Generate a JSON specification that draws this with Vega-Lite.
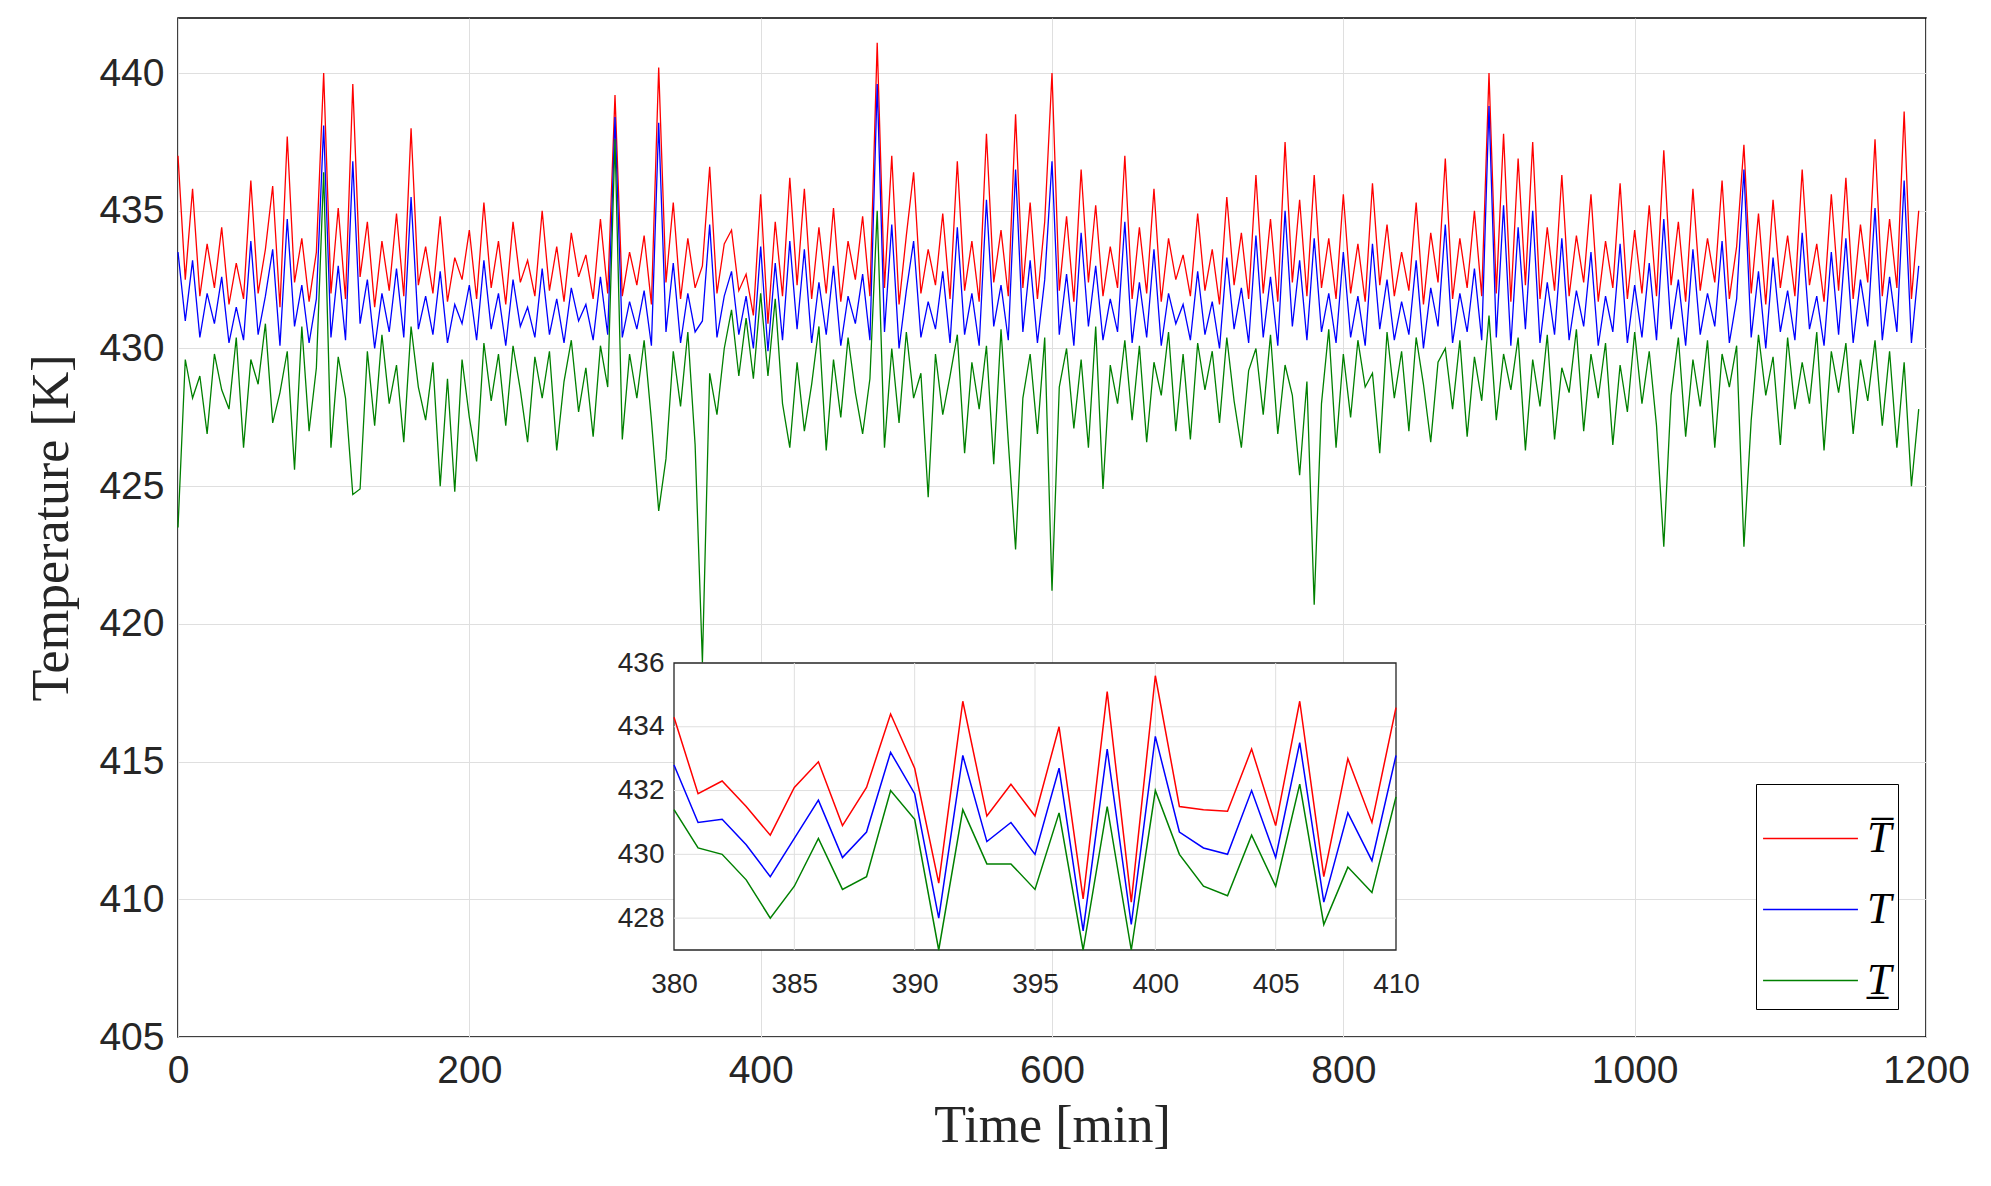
{
  "$schema": "https://vega.github.io/schema/vega-lite/v6.json",
  "autosize": "none",
  "width": 1748,
  "height": 1019,
  "padding": {"left": 178, "top": 18, "right": 65, "bottom": 149},
  "background": "white",
  "config": {
    "view": {"stroke": "black", "strokeWidth": 1.5},
    "axis": {"labelFont": "Liberation Sans", "labelColor": "#262626", "titleFont": "Liberation Serif", "titleFontWeight": "normal", "titleColor": "#262626", "labelFlush": false, "labelOverlap": false}
  },
  "datasets": {
    "main": [
{"t":0,"a":437.0,"b":433.5,"c":423.5},{"t":5,"a":432.5,"b":431.0,"c":429.6},{"t":10,"a":435.8,"b":433.2,"c":428.2},{"t":15,"a":431.9,"b":430.4,"c":429.0},{"t":20,"a":433.8,"b":432.0,"c":426.9},{"t":25,"a":432.2,"b":430.9,"c":429.8},{"t":30,"a":434.4,"b":432.6,"c":428.5},{"t":35,"a":431.6,"b":430.2,"c":427.8},{"t":40,"a":433.1,"b":431.5,"c":430.4},{"t":45,"a":431.8,"b":430.3,"c":426.4},
{"t":50,"a":436.1,"b":433.9,"c":429.6},{"t":55,"a":432.0,"b":430.5,"c":428.7},{"t":60,"a":433.6,"b":431.9,"c":430.9},{"t":65,"a":435.9,"b":433.6,"c":427.3},{"t":70,"a":431.5,"b":430.1,"c":428.4},{"t":75,"a":437.7,"b":434.7,"c":429.9},{"t":80,"a":432.4,"b":430.8,"c":425.6},{"t":85,"a":434.0,"b":432.3,"c":430.8},{"t":90,"a":431.7,"b":430.2,"c":427.0},{"t":95,"a":433.5,"b":431.8,"c":429.3},
{"t":100,"a":440.0,"b":438.1,"c":436.4},{"t":105,"a":432.0,"b":430.4,"c":426.4},{"t":110,"a":435.1,"b":433.0,"c":429.7},{"t":115,"a":431.8,"b":430.3,"c":428.2},{"t":120,"a":439.6,"b":436.8,"c":424.7},{"t":125,"a":432.6,"b":430.9,"c":424.9},{"t":130,"a":434.6,"b":432.5,"c":429.9},{"t":135,"a":431.5,"b":430.0,"c":427.2},{"t":140,"a":433.9,"b":432.0,"c":430.5},{"t":145,"a":432.1,"b":430.6,"c":428.0},
{"t":150,"a":434.9,"b":432.9,"c":429.4},{"t":155,"a":431.9,"b":430.4,"c":426.6},{"t":160,"a":438.0,"b":435.5,"c":430.8},{"t":165,"a":432.3,"b":430.7,"c":428.6},{"t":170,"a":433.7,"b":431.9,"c":427.4},{"t":175,"a":432.0,"b":430.5,"c":429.5},{"t":180,"a":434.8,"b":432.8,"c":425.0},{"t":185,"a":431.7,"b":430.2,"c":428.9},{"t":190,"a":433.3,"b":431.6,"c":424.8},{"t":195,"a":432.5,"b":430.9,"c":429.6},
{"t":200,"a":434.3,"b":432.3,"c":427.5},{"t":205,"a":431.8,"b":430.3,"c":425.9},{"t":210,"a":435.3,"b":433.2,"c":430.2},{"t":215,"a":432.2,"b":430.7,"c":428.1},{"t":220,"a":433.9,"b":432.0,"c":429.8},{"t":225,"a":431.6,"b":430.1,"c":427.2},{"t":230,"a":434.6,"b":432.5,"c":430.1},{"t":235,"a":432.4,"b":430.8,"c":428.5},{"t":240,"a":433.2,"b":431.5,"c":426.6},{"t":245,"a":431.9,"b":430.4,"c":429.7},
{"t":250,"a":435.0,"b":432.9,"c":428.2},{"t":255,"a":432.1,"b":430.5,"c":429.9},{"t":260,"a":433.7,"b":431.8,"c":426.3},{"t":265,"a":431.7,"b":430.2,"c":428.8},{"t":270,"a":434.2,"b":432.2,"c":430.3},{"t":275,"a":432.6,"b":431.0,"c":427.7},{"t":280,"a":433.4,"b":431.6,"c":429.3},{"t":285,"a":431.8,"b":430.3,"c":426.8},{"t":290,"a":434.7,"b":432.6,"c":430.1},{"t":295,"a":432.0,"b":430.5,"c":428.6},
{"t":300,"a":439.2,"b":438.4,"c":437.6},{"t":305,"a":431.9,"b":430.4,"c":426.7},{"t":310,"a":433.5,"b":431.7,"c":429.8},{"t":315,"a":432.3,"b":430.7,"c":428.2},{"t":320,"a":434.1,"b":432.1,"c":430.3},{"t":325,"a":431.6,"b":430.1,"c":427.4},{"t":330,"a":440.2,"b":438.2,"c":424.1},{"t":335,"a":432.4,"b":430.6,"c":426.0},{"t":340,"a":435.3,"b":433.1,"c":429.9},{"t":345,"a":431.8,"b":430.2,"c":427.9},
{"t":350,"a":434.0,"b":432.0,"c":430.6},{"t":355,"a":432.2,"b":430.6,"c":426.5},{"t":360,"a":433.0,"b":431.0,"c":418.6},{"t":365,"a":436.6,"b":434.5,"c":429.1},{"t":370,"a":432.0,"b":430.4,"c":427.6},{"t":375,"a":433.8,"b":431.9,"c":430.0},{"t":380,"a":434.3,"b":432.8,"c":431.4},{"t":385,"a":432.1,"b":430.5,"c":429.0},{"t":390,"a":432.7,"b":431.9,"c":431.1},{"t":395,"a":431.2,"b":430.0,"c":428.9},
{"t":400,"a":435.6,"b":433.7,"c":432.0},{"t":405,"a":430.9,"b":429.9,"c":429.0},{"t":410,"a":434.6,"b":433.1,"c":431.8},{"t":415,"a":431.9,"b":430.3,"c":428.0},{"t":420,"a":436.2,"b":433.9,"c":426.4},{"t":425,"a":432.3,"b":430.7,"c":429.5},{"t":430,"a":435.8,"b":433.6,"c":427.0},{"t":435,"a":431.8,"b":430.2,"c":428.7},{"t":440,"a":434.4,"b":432.4,"c":430.8},{"t":445,"a":432.0,"b":430.5,"c":426.3},
{"t":450,"a":435.1,"b":433.0,"c":429.6},{"t":455,"a":431.7,"b":430.1,"c":427.5},{"t":460,"a":433.9,"b":431.9,"c":430.4},{"t":465,"a":432.5,"b":430.9,"c":428.4},{"t":470,"a":434.8,"b":432.7,"c":426.9},{"t":475,"a":431.9,"b":430.3,"c":428.9},{"t":480,"a":441.1,"b":439.6,"c":435.0},{"t":485,"a":432.2,"b":430.6,"c":426.4},{"t":490,"a":437.0,"b":434.5,"c":430.0},{"t":495,"a":431.6,"b":430.0,"c":427.3},
{"t":500,"a":434.1,"b":432.1,"c":430.6},{"t":505,"a":436.4,"b":433.9,"c":428.2},{"t":510,"a":432.0,"b":430.4,"c":429.1},{"t":515,"a":433.6,"b":431.7,"c":424.6},{"t":520,"a":432.3,"b":430.7,"c":429.8},{"t":525,"a":434.9,"b":432.8,"c":427.6},{"t":530,"a":431.8,"b":430.2,"c":429.0},{"t":535,"a":436.8,"b":434.4,"c":430.5},{"t":540,"a":432.1,"b":430.5,"c":426.2},{"t":545,"a":433.9,"b":432.0,"c":429.5},
{"t":550,"a":431.7,"b":430.1,"c":427.8},{"t":555,"a":437.8,"b":435.4,"c":430.1},{"t":560,"a":432.4,"b":430.8,"c":425.8},{"t":565,"a":434.3,"b":432.3,"c":430.7},{"t":570,"a":431.9,"b":430.3,"c":426.6},{"t":575,"a":438.5,"b":436.5,"c":422.7},{"t":580,"a":432.2,"b":430.6,"c":428.2},{"t":585,"a":435.3,"b":433.2,"c":429.8},{"t":590,"a":431.8,"b":430.2,"c":426.9},{"t":595,"a":434.6,"b":432.5,"c":430.4},
{"t":600,"a":440.0,"b":436.8,"c":421.2},{"t":605,"a":432.1,"b":430.5,"c":428.6},{"t":610,"a":434.8,"b":432.7,"c":430.0},{"t":615,"a":431.7,"b":430.1,"c":427.1},{"t":620,"a":436.5,"b":434.2,"c":429.6},{"t":625,"a":432.4,"b":430.8,"c":426.4},{"t":630,"a":435.2,"b":433.0,"c":430.8},{"t":635,"a":431.9,"b":430.3,"c":424.9},{"t":640,"a":433.7,"b":431.8,"c":429.4},{"t":645,"a":432.2,"b":430.6,"c":428.0},
{"t":650,"a":437.0,"b":434.6,"c":430.3},{"t":655,"a":431.8,"b":430.2,"c":427.4},{"t":660,"a":434.4,"b":432.4,"c":430.1},{"t":665,"a":432.0,"b":430.4,"c":426.6},{"t":670,"a":435.8,"b":433.6,"c":429.5},{"t":675,"a":431.7,"b":430.1,"c":428.3},{"t":680,"a":434.0,"b":432.0,"c":430.6},{"t":685,"a":432.5,"b":430.9,"c":427.0},{"t":690,"a":433.4,"b":431.6,"c":429.8},{"t":695,"a":431.9,"b":430.3,"c":426.7},
{"t":700,"a":434.9,"b":432.8,"c":430.2},{"t":705,"a":432.1,"b":430.5,"c":428.5},{"t":710,"a":433.6,"b":431.7,"c":429.9},{"t":715,"a":431.6,"b":430.0,"c":427.3},{"t":720,"a":435.5,"b":433.3,"c":430.4},{"t":725,"a":432.3,"b":430.7,"c":428.1},{"t":730,"a":434.2,"b":432.2,"c":426.4},{"t":735,"a":431.8,"b":430.2,"c":429.2},{"t":740,"a":436.3,"b":434.1,"c":430.0},{"t":745,"a":432.0,"b":430.4,"c":427.6},
{"t":750,"a":434.7,"b":432.6,"c":430.5},{"t":755,"a":431.7,"b":430.1,"c":426.9},{"t":760,"a":437.5,"b":435.0,"c":429.4},{"t":765,"a":432.4,"b":430.8,"c":428.3},{"t":770,"a":435.4,"b":433.2,"c":425.4},{"t":775,"a":431.9,"b":430.3,"c":428.8},{"t":780,"a":436.3,"b":434.0,"c":420.7},{"t":785,"a":432.2,"b":430.6,"c":428.0},{"t":790,"a":434.0,"b":432.0,"c":430.7},{"t":795,"a":431.8,"b":430.2,"c":426.4},
{"t":800,"a":435.6,"b":433.5,"c":429.8},{"t":805,"a":432.0,"b":430.4,"c":427.5},{"t":810,"a":433.8,"b":431.9,"c":430.3},{"t":815,"a":431.7,"b":430.1,"c":428.6},{"t":820,"a":436.0,"b":433.8,"c":429.1},{"t":825,"a":432.3,"b":430.7,"c":426.2},{"t":830,"a":434.5,"b":432.5,"c":430.6},{"t":835,"a":431.9,"b":430.3,"c":428.2},{"t":840,"a":433.5,"b":431.7,"c":429.9},{"t":845,"a":432.1,"b":430.5,"c":427.0},
{"t":850,"a":435.3,"b":433.2,"c":430.4},{"t":855,"a":431.6,"b":430.0,"c":428.7},{"t":860,"a":434.2,"b":432.2,"c":426.6},{"t":865,"a":432.4,"b":430.8,"c":429.5},{"t":870,"a":436.9,"b":434.5,"c":430.0},{"t":875,"a":431.8,"b":430.2,"c":427.8},{"t":880,"a":434.0,"b":432.0,"c":430.3},{"t":885,"a":432.2,"b":430.6,"c":426.8},{"t":890,"a":435.0,"b":432.9,"c":429.7},{"t":895,"a":431.9,"b":430.3,"c":428.1},
{"t":900,"a":440.0,"b":438.8,"c":431.2},{"t":905,"a":432.0,"b":430.4,"c":427.4},{"t":910,"a":437.8,"b":435.2,"c":429.8},{"t":915,"a":431.7,"b":430.1,"c":428.5},{"t":920,"a":436.9,"b":434.4,"c":430.4},{"t":925,"a":432.3,"b":430.7,"c":426.3},{"t":930,"a":437.5,"b":435.0,"c":429.6},{"t":935,"a":431.8,"b":430.2,"c":427.9},{"t":940,"a":434.4,"b":432.4,"c":430.5},{"t":945,"a":432.1,"b":430.5,"c":426.7},
{"t":950,"a":436.3,"b":434.0,"c":429.3},{"t":955,"a":431.9,"b":430.3,"c":428.4},{"t":960,"a":434.1,"b":432.1,"c":430.7},{"t":965,"a":432.4,"b":430.8,"c":427.0},{"t":970,"a":435.6,"b":433.5,"c":429.8},{"t":975,"a":431.7,"b":430.1,"c":428.2},{"t":980,"a":433.9,"b":431.9,"c":430.2},{"t":985,"a":432.2,"b":430.6,"c":426.5},{"t":990,"a":436.0,"b":433.8,"c":429.4},{"t":995,"a":431.8,"b":430.2,"c":427.7},
{"t":1000,"a":434.3,"b":432.3,"c":430.6},{"t":1005,"a":432.0,"b":430.4,"c":428.0},{"t":1010,"a":435.2,"b":433.1,"c":429.9},{"t":1015,"a":431.9,"b":430.3,"c":427.2},{"t":1020,"a":437.2,"b":434.7,"c":422.8},{"t":1025,"a":432.3,"b":430.7,"c":428.3},{"t":1030,"a":434.6,"b":432.5,"c":430.4},{"t":1035,"a":431.7,"b":430.1,"c":426.8},{"t":1040,"a":435.8,"b":433.6,"c":429.6},{"t":1045,"a":432.1,"b":430.5,"c":427.9},
{"t":1050,"a":434.0,"b":432.0,"c":430.3},{"t":1055,"a":432.4,"b":430.8,"c":426.4},{"t":1060,"a":436.1,"b":433.9,"c":429.8},{"t":1065,"a":431.8,"b":430.2,"c":428.6},{"t":1070,"a":433.7,"b":431.8,"c":430.1},{"t":1075,"a":437.4,"b":436.5,"c":422.8},{"t":1080,"a":432.0,"b":430.4,"c":427.4},{"t":1085,"a":434.9,"b":432.8,"c":430.5},{"t":1090,"a":431.6,"b":430.0,"c":428.3},{"t":1095,"a":435.4,"b":433.3,"c":429.7},
{"t":1100,"a":432.2,"b":430.6,"c":426.5},{"t":1105,"a":434.1,"b":432.1,"c":430.4},{"t":1110,"a":431.9,"b":430.3,"c":427.8},{"t":1115,"a":436.5,"b":434.2,"c":429.5},{"t":1120,"a":432.3,"b":430.7,"c":428.0},{"t":1125,"a":433.8,"b":431.9,"c":430.6},{"t":1130,"a":431.7,"b":430.1,"c":426.3},{"t":1135,"a":435.6,"b":433.5,"c":429.9},{"t":1140,"a":432.1,"b":430.5,"c":428.4},{"t":1145,"a":436.2,"b":434.0,"c":430.2},
{"t":1150,"a":431.8,"b":430.2,"c":426.9},{"t":1155,"a":434.5,"b":432.5,"c":429.6},{"t":1160,"a":432.4,"b":430.8,"c":428.1},{"t":1165,"a":437.6,"b":435.1,"c":430.3},{"t":1170,"a":431.9,"b":430.3,"c":427.2},{"t":1175,"a":434.7,"b":432.6,"c":429.9},{"t":1180,"a":432.2,"b":430.6,"c":426.4},{"t":1185,"a":438.6,"b":436.1,"c":429.5},{"t":1190,"a":431.8,"b":430.2,"c":425.0},{"t":1195,"a":435.0,"b":433.0,"c":427.8}
    ],
    "inset": [
{"t":380,"a":434.3,"b":432.8,"c":431.4},{"t":381,"a":431.9,"b":431.0,"c":430.2},{"t":382,"a":432.3,"b":431.1,"c":430.0},{"t":383,"a":431.5,"b":430.3,"c":429.2},{"t":384,"a":430.6,"b":429.3,"c":428.0},{"t":385,"a":432.1,"b":430.5,"c":429.0},{"t":386,"a":432.9,"b":431.7,"c":430.5},{"t":387,"a":430.9,"b":429.9,"c":428.9},{"t":388,"a":432.1,"b":430.7,"c":429.3},{"t":389,"a":434.4,"b":433.2,"c":432.0},
{"t":390,"a":432.7,"b":431.9,"c":431.1},{"t":391,"a":429.1,"b":428.0,"c":427.0},{"t":392,"a":434.8,"b":433.1,"c":431.4},{"t":393,"a":431.2,"b":430.4,"c":429.7},{"t":394,"a":432.2,"b":431.0,"c":429.7},{"t":395,"a":431.2,"b":430.0,"c":428.9},{"t":396,"a":434.0,"b":432.7,"c":431.3},{"t":397,"a":428.6,"b":427.6,"c":427.0},{"t":398,"a":435.1,"b":433.3,"c":431.5},{"t":399,"a":428.5,"b":427.8,"c":427.0},
{"t":400,"a":435.6,"b":433.7,"c":432.0},{"t":401,"a":431.5,"b":430.7,"c":430.0},{"t":402,"a":431.4,"b":430.2,"c":429.0},{"t":403,"a":431.35,"b":430.0,"c":428.7},{"t":404,"a":433.3,"b":432.0,"c":430.6},{"t":405,"a":430.9,"b":429.9,"c":429.0},{"t":406,"a":434.8,"b":433.5,"c":432.2},{"t":407,"a":429.3,"b":428.5,"c":427.8},{"t":408,"a":433.0,"b":431.3,"c":429.6},{"t":409,"a":431.0,"b":429.8,"c":428.8},{"t":410,"a":434.6,"b":433.1,"c":431.8}
    ],
    "box": [{"x1":380,"x2":410,"y1":427,"y2":436}],
    "xgrid": [{"v":385},{"v":390},{"v":395},{"v":400},{"v":405}],
    "ygrid": [{"v":428},{"v":430},{"v":432},{"v":434}]
  },
  "resolve": {"scale": {"x": "independent", "y": "independent"}, "axis": {"x": "independent", "y": "independent"}},
  "layer": [
    {
      "data": {"name": "main"},
      "transform": [{"fold": ["a", "b", "c"], "as": ["s", "v"]}],
      "mark": {"type": "line", "strokeWidth": 1.3},
      "encoding": {
        "x": {"field": "t", "type": "quantitative", "scale": {"domain": [0, 1200], "nice": false},
          "axis": {"title": "Time [min]", "titleFontSize": 52, "titlePadding": 10, "labelFontSize": 39, "labelPadding": 14, "format": "d", "values": [0,200,400,600,800,1000,1200], "grid": true, "gridColor": "#dfdfdf", "domain": false, "ticks": false}},
        "y": {"field": "v", "type": "quantitative", "scale": {"domain": [405, 442], "nice": false, "zero": false},
          "axis": {"title": "Temperature [K]", "titleFontSize": 52, "titlePadding": 20, "labelFontSize": 39, "labelPadding": 14, "format": "d", "values": [405,410,415,420,425,430,435,440], "grid": true, "gridColor": "#dfdfdf", "domain": false, "ticks": false}},
        "color": {"field": "s", "type": "nominal",
          "scale": {"domain": ["a", "b", "c"], "range": ["#ff0000", "#0000ff", "#008000"]},
          "legend": {"title": null, "orient": "bottom-right", "offset": 28, "symbolType": "stroke", "symbolSize": 9000, "symbolStrokeWidth": 1.5,
            "labelExpr": "datum.label == 'a' ? 'T\u0305' : datum.label == 'b' ? 'T' : 'T\u0332'",
            "labelFont": "Liberation Serif", "labelFontStyle": "italic", "labelFontSize": 44, "labelColor": "black",
            "strokeColor": "black", "fillColor": "white", "padding": 6, "rowPadding": 0, "labelOffset": 8}}
      }
    },
    {
      "layer": [
        {
          "data": {"name": "box"},
          "mark": {"type": "rect", "fill": "white", "stroke": "#262626", "strokeWidth": 1.3},
          "encoding": {
            "x": {"field": "x1", "type": "quantitative", "scale": {"domain": [380, 410], "range": [496, 1218], "nice": false},
              "axis": {"title": null, "orient": "bottom", "offset": -87, "format": "d", "values": [380,385,390,395,400,405,410], "labelFontSize": 28, "labelPadding": 20, "labelAlign": "center", "grid": false, "domain": false, "ticks": false}},
            "x2": {"field": "x2"},
            "y": {"field": "y1", "type": "quantitative", "scale": {"domain": [427, 436], "range": [932, 645], "nice": false, "zero": false},
              "axis": {"title": null, "orient": "left", "offset": -496, "format": "d", "values": [428,430,432,434,436], "labelFontSize": 28, "labelPadding": 10, "labelBaseline": "middle", "grid": false, "domain": false, "ticks": false}},
            "y2": {"field": "y2"}
          }
        },
        {
          "data": {"name": "xgrid"},
          "mark": {"type": "rule", "color": "#dfdfdf", "strokeWidth": 1},
          "encoding": {"x": {"field": "v", "type": "quantitative"}, "y": {"datum": 427}, "y2": {"datum": 436}}
        },
        {
          "data": {"name": "ygrid"},
          "mark": {"type": "rule", "color": "#dfdfdf", "strokeWidth": 1},
          "encoding": {"y": {"field": "v", "type": "quantitative"}, "x": {"datum": 380}, "x2": {"datum": 410}}
        },
        {
          "data": {"name": "inset"},
          "transform": [{"fold": ["a", "b", "c"], "as": ["s", "v"]}],
          "mark": {"type": "line", "strokeWidth": 1.5},
          "encoding": {
            "x": {"field": "t", "type": "quantitative"},
            "y": {"field": "v", "type": "quantitative"},
            "color": {"field": "s", "type": "nominal", "legend": null}
          }
        }
      ]
    }
  ]
}
